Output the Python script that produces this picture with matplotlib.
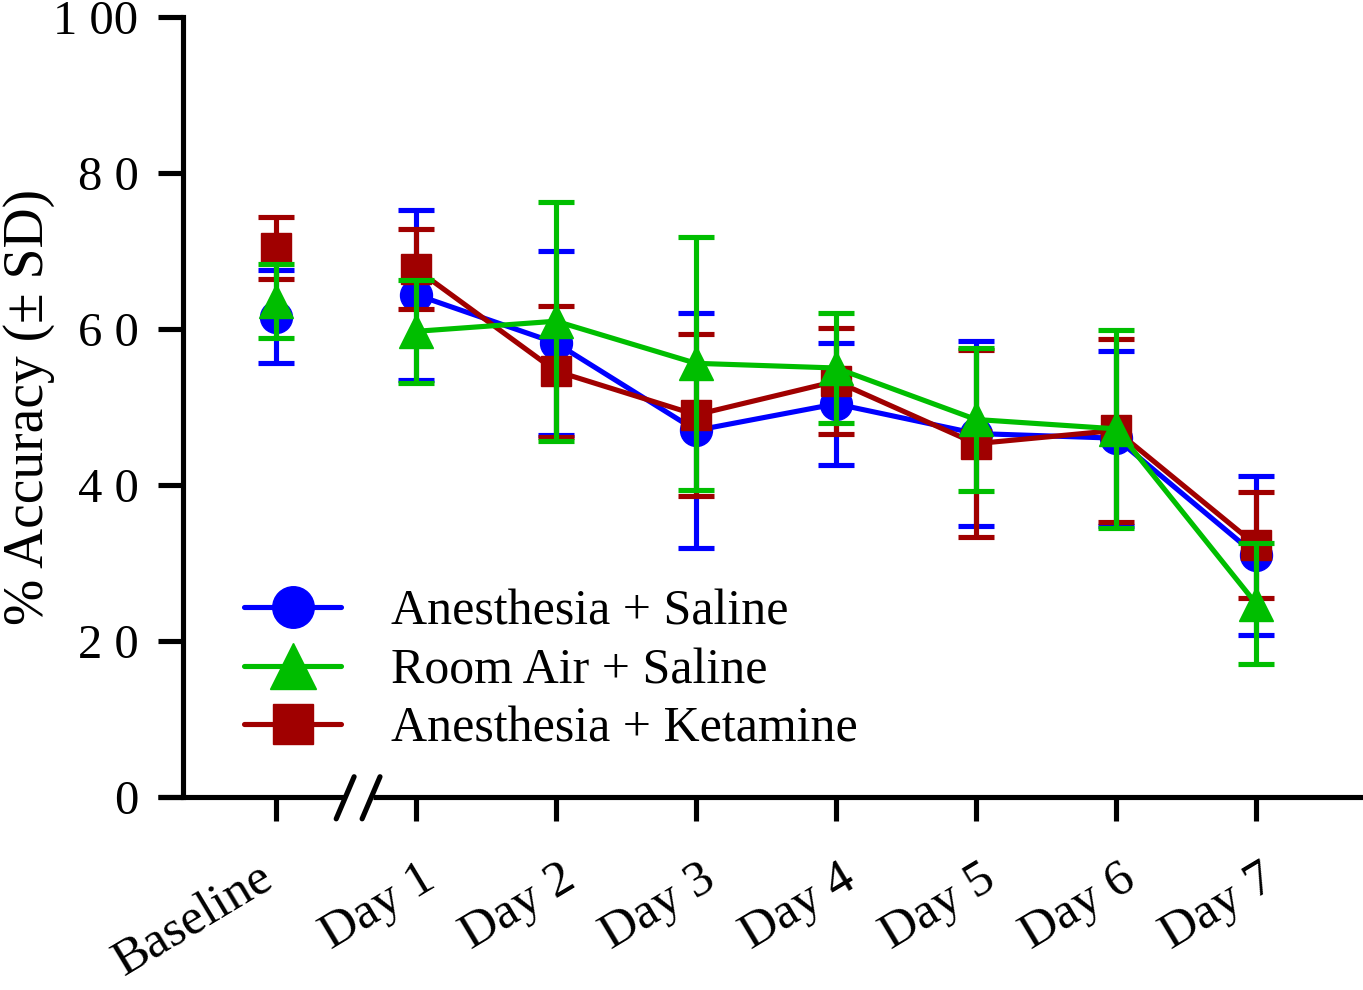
import matplotlib
matplotlib.use("Agg")
import matplotlib.pyplot as plt
import numpy as np
from matplotlib.transforms import blended_transform_factory, ScaledTranslation

# --- data ---
DAYS = ["Baseline", "Day 1", "Day 2", "Day 3", "Day 4", "Day 5", "Day 6", "Day 7"]
anes_saline_mean = [61.6, 64.4, 58.2, 47.0, 50.4, 46.6, 46.0, 31.0]
anes_saline_sd = [6.0, 10.9, 11.8, 15.1, 7.8, 11.8, 11.2, 10.2]
room_air_mean = [63.6, 59.7, 61.0, 55.6, 55.0, 48.4, 47.2, 24.8]
room_air_sd = [4.7, 6.6, 15.3, 16.2, 7.0, 9.2, 12.7, 7.8]
ketamine_mean = [70.4, 67.7, 54.6, 49.0, 53.3, 45.3, 47.0, 32.3]
ketamine_sd = [4.0, 5.1, 8.4, 10.4, 6.8, 12.0, 11.7, 6.8]
Y_TICKS = [0, 20, 40, 60, 80, 100]
Y_TICKLABELS = ["0", "2 0", "4 0", "6 0", "8 0", "1 00"]

plt.rcParams["font.family"] = ["Liberation Serif", "DejaVu Serif"]
FS = 35
LW = 3.7

fig = plt.figure(figsize=(13.63, 9.90), dpi=100)
ax = fig.add_axes([183 / 1363, 1 - 797 / 990, (1360 - 183) / 1363, (797 - 17) / 990])

x = np.arange(len(DAYS), dtype=float)
series = [
    ("Anesthesia + Saline", anes_saline_mean, anes_saline_sd, "#0000FF", "o", 23),
    ("Anesthesia + Ketamine", ketamine_mean, ketamine_sd, "#A00000", "s", 22),
    ("Room Air + Saline", room_air_mean, room_air_sd, "#00BE00", "^", 25),
]
handles = {}
for name, m, sd, col, mk, ms in series:
    ax.errorbar(x, m, yerr=sd, fmt="none", ecolor=col, elinewidth=LW, capsize=13,
                capthick=LW, clip_on=False)
    # baseline is not connected to the daily curve
    ax.plot(x[1:], m[1:], color=col, lw=LW, solid_capstyle="round", clip_on=False)
    ax.plot(x, m, linestyle="none", marker=mk, ms=ms, color=col, mec=col, clip_on=False)
    h, = ax.plot([], [], color=col, lw=LW, marker=mk, ms=ms * 1.3,
                 solid_capstyle="round")
    handles[name] = h

order = ["Anesthesia + Saline", "Room Air + Saline", "Anesthesia + Ketamine"]
leg = ax.legend([handles[k] for k in order], order, loc="upper left",
                bbox_to_anchor=(0.035, 0.292), frameon=False, fontsize=36,
                handlelength=1.94, handletextpad=1.0, labelspacing=0.24,
                borderaxespad=0)

ax.set_xlim((183 - 276) / 140, (1360 - 276) / 140)
ax.set_ylim(0, 100)
ax.set_yticks(Y_TICKS)
ax.set_yticklabels(Y_TICKLABELS, fontsize=FS)
ax.set_xticks(x)
ax.set_xticklabels(DAYS, fontsize=37, rotation=31, ha="right", va="baseline",
                   rotation_mode="anchor")
ax.tick_params(axis="y", length=18, width=LW, pad=14)
ax.tick_params(axis="x", length=17, width=LW, pad=47)
for i, lab in enumerate(ax.get_xticklabels()):
    dx = 0.0 if i == 0 else 0.22
    lab.set_transform(lab.get_transform() + ScaledTranslation(dx, 0, fig.dpi_scale_trans))

ax.set_ylabel("% Accuracy (± SD)", fontsize=40)
ax.yaxis.set_label_coords((55 - 183) / 1177, 0.5)

for s in ("top", "right", "bottom"):
    ax.spines[s].set_visible(False)
ax.spines["left"].set_linewidth(LW)
ax.spines["left"].set_capstyle("projecting")

# broken x axis drawn by hand
tr = blended_transform_factory(ax.transData, ax.transAxes)
brk_a, brk_b = 0.49, 0.69
ax.plot([(158 - 276) / 140, brk_a], [0, 0], color="black", lw=LW, transform=tr,
        clip_on=False, solid_capstyle="butt")
ax.plot([brk_b, 8.0], [0, 0], color="black", lw=LW, transform=tr,
        clip_on=False, solid_capstyle="butt")
for x0 in (0.43, 0.615):
    ax.plot([x0, x0 + 0.128], [-0.028, 0.026], color="black", lw=LW, transform=tr,
            clip_on=False, solid_capstyle="round")

fig.savefig("out.png", dpi=100)
